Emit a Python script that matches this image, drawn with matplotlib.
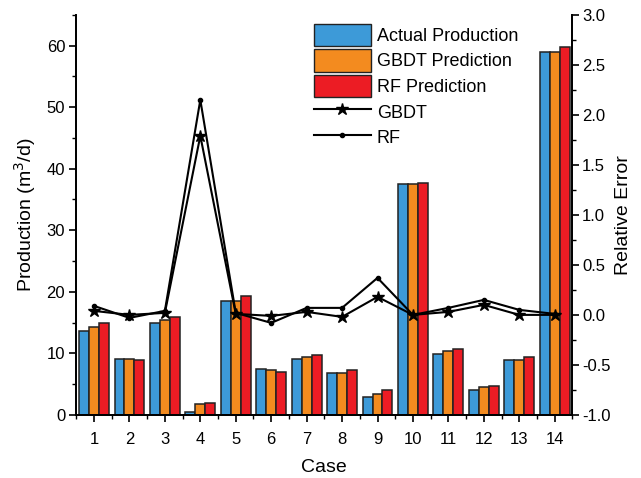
import numpy as np
import matplotlib
matplotlib.use('Agg')
import matplotlib.pyplot as plt
from matplotlib.ticker import MultipleLocator
from matplotlib.lines import Line2D
from matplotlib.patches import Patch

plt.rcParams['font.family'] = ['Liberation Sans', 'DejaVu Sans']

cases = np.arange(1, 15)
actual = [13.6, 9.1, 15.0, 0.5, 18.5, 7.5, 9.1, 6.75, 2.9, 37.5, 9.9, 4.05, 8.85, 58.9]
gbdt_pred = [14.3, 9.1, 15.4, 1.7, 18.5, 7.3, 9.45, 6.75, 3.45, 37.5, 10.4, 4.5, 8.85, 59.0]
rf_pred = [14.9, 8.9, 15.9, 1.9, 19.3, 6.9, 9.8, 7.3, 4.0, 37.65, 10.75, 4.7, 9.35, 59.8]
gbdt_err = [0.04, 0.0, 0.02, 1.79, 0.01, -0.01, 0.03, -0.02, 0.18, 0.0, 0.03, 0.10, 0.0, 0.0]
rf_err = [0.09, -0.03, 0.04, 2.15, 0.02, -0.08, 0.07, 0.07, 0.37, 0.0, 0.07, 0.15, 0.05, 0.01]

c_blue = '#3d9ad8'
c_orange = '#f38b1f'
c_red = '#ec1c24'

fig = plt.figure(figsize=(6.41, 4.78), dpi=100)
ax = fig.add_axes([0.119, 0.132, 0.774, 0.837])
w = 0.28
kw = dict(width=w, edgecolor='#222222', linewidth=1.1, zorder=2)
ax.bar(cases - w, actual, color=c_blue, **kw)
ax.bar(cases, gbdt_pred, color=c_orange, **kw)
ax.bar(cases + w, rf_pred, color=c_red, **kw)

ax.set_xlim(0.5, 14.5)
ax.set_ylim(0, 65)
ax.set_xticks(cases)
ax.xaxis.set_minor_locator(MultipleLocator(0.5))
ax.yaxis.set_major_locator(MultipleLocator(10))
ax.yaxis.set_minor_locator(MultipleLocator(5))
ax.set_xlabel('Case', fontsize=14, labelpad=9)
ax.set_ylabel('Production (m$^3$/d)', fontsize=14, labelpad=6)
ax.spines['top'].set_visible(False)
for s in ax.spines.values():
    s.set_linewidth(1.3)

ax2 = ax.twinx()
ax2.plot(cases, gbdt_err, color='black', marker='*', markersize=9, linewidth=1.5, zorder=3)
ax2.plot(cases, rf_err, color='black', marker='o', markersize=3, linewidth=1.5, zorder=3)
ax2.set_ylim(-1.0, 3.0)
ax2.yaxis.set_major_locator(MultipleLocator(0.5))
ax2.yaxis.set_minor_locator(MultipleLocator(0.25))
ax2.set_ylabel('Relative Error', fontsize=14, labelpad=3)
ax2.spines['top'].set_visible(False)
for s in ax2.spines.values():
    s.set_linewidth(1.3)
ax2.yaxis.set_major_formatter(plt.FuncFormatter(lambda v, p: f'{v:.1f}'))

for a in (ax, ax2):
    a.tick_params(which='major', direction='out', length=5, width=1.2, labelsize=12, pad=2)
    a.tick_params(which='minor', direction='out', length=3, width=1.0)
ax.tick_params(axis='x', which='major', pad=7)
ax.tick_params(axis='y', which='major', pad=3)

handles = [
    Patch(facecolor=c_blue, edgecolor='#222222', label='Actual Production'),
    Patch(facecolor=c_orange, edgecolor='#222222', label='GBDT Prediction'),
    Patch(facecolor=c_red, edgecolor='#222222', label='RF Prediction'),
    Line2D([], [], color='black', marker='*', markersize=9, linewidth=1.5, label='GBDT'),
    Line2D([], [], color='black', marker='o', markersize=3, linewidth=1.5, label='RF'),
]
ax2.legend(handles=handles, loc='upper left', bbox_to_anchor=(0.46, 1.0), frameon=False,
           fontsize=13, handlelength=3.2, handleheight=1.5, labelspacing=0.2,
           handletextpad=0.3, borderaxespad=0.1)

fig.savefig('out.png', dpi=100)
